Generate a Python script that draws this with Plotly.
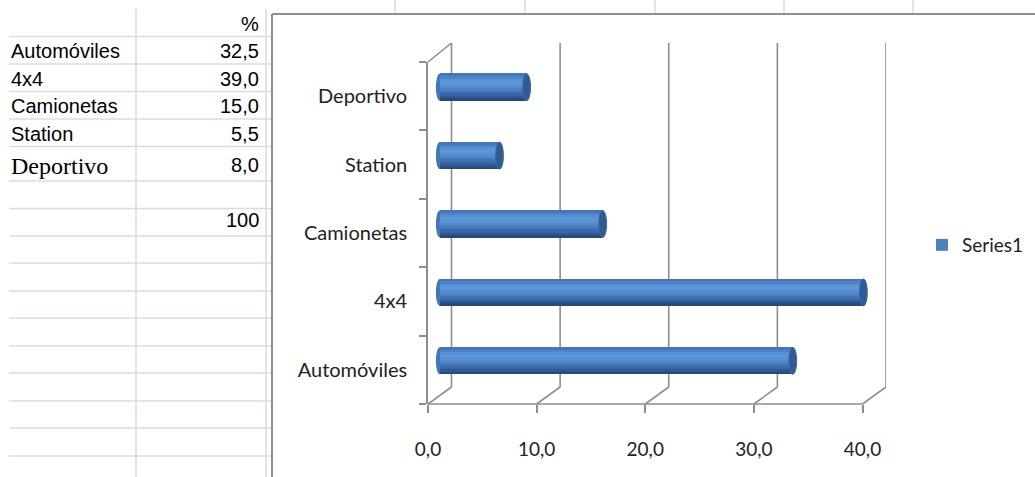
import plotly.graph_objects as go

# ---- data -------------------------------------------------------------
categories = ["Automóviles", "4x4", "Camionetas", "Station", "Deportivo"]
percentages = [32.5, 39.0, 15.0, 5.5, 8.0]
x_ticks = [0, 10, 20, 30, 40]
series_name = "Series1"
sheet_header = "%"

# ---- page geometry (pixels) ------------------------------------------
W, H = 1035, 477


def px(x):
    return x / W


def py(y):
    return 1 - y / H


# 3-D box of the chart: front plane, back wall and depth offset
FRONT_X0, FRONT_X40, BACK_X_END = 428, 862.5, 886
FRONT_TOP, FRONT_BOTTOM = 62, 404
BACK_TOP, BACK_BOTTOM = 43, 387
X_MAX = 40 * (BACK_X_END - FRONT_X0) / (FRONT_X40 - FRONT_X0)
DEPTH = X_MAX - 40                      # depth expressed in x units
BAR_BASE = DEPTH / 2                    # bars sit half way into the box
BAR_W = 0.395
CAP_HALF = 0.36

FRAME = "#8e8e8e"
GRID_SHEET = "#d6dce8"
TEXT = "#222222"
CHART_FONT = "Lato"

# cylinder shading, bottom edge to top edge
STRIPES = ["#284a78", "#2f5890", "#3866a4", "#4272b4", "#4b7ec2",
           "#538acd", "#5a93d5", "#5c95d8", "#5890d3", "#4f84c6", "#4577b8"]

fig = go.Figure()

# base bar carries the legend entry
fig.add_trace(go.Bar(
    y=categories, x=percentages, base=BAR_BASE, orientation="h",
    width=BAR_W, marker=dict(color="#4f81bd", line=dict(width=0)),
    name=series_name, xaxis="x", yaxis="y2", hoverinfo="skip",
))

n = len(STRIPES)
step = BAR_W / n
for j, col in enumerate(STRIPES):
    fig.add_trace(go.Bar(
        y=categories, x=percentages, base=BAR_BASE, orientation="h",
        width=step * 1.15, offset=-BAR_W / 2 + j * step,
        marker=dict(color=col, line=dict(width=0)),
        showlegend=False, xaxis="x", yaxis="y2", hoverinfo="skip",
    ))

# invisible points give the front category axis its labels
fig.add_trace(go.Scatter(
    y=categories, x=[0] * len(categories), mode="markers",
    marker=dict(opacity=0), showlegend=False, hoverinfo="skip",
    xaxis="x", yaxis="y",
))

shapes = []

# rounded rear end and front cap of each cylinder
for k, v in enumerate(percentages):
    shapes.append(dict(type="circle", xref="x", yref="y2", layer="below",
                       x0=BAR_BASE - CAP_HALF, x1=BAR_BASE + CAP_HALF,
                       y0=k - BAR_W / 2, y1=k + BAR_W / 2,
                       fillcolor="#4477b6", line=dict(width=0)))
    shapes.append(dict(type="circle", xref="x", yref="y2",
                       x0=BAR_BASE + v - CAP_HALF, x1=BAR_BASE + v + CAP_HALF,
                       y0=k - BAR_W / 2, y1=k + BAR_W / 2,
                       fillcolor="#305c93", line=dict(color="#3a69a6", width=1)))

# back wall gridlines and floor depth lines
for t in x_ticks:
    shapes.append(dict(type="line", xref="x", yref="paper",
                       x0=t + DEPTH, x1=t + DEPTH, y0=py(BACK_BOTTOM), y1=py(BACK_TOP),
                       line=dict(color=FRAME, width=1.6), layer="below"))
    shapes.append(dict(type="line", xref="x", yref="paper",
                       x0=t, x1=t + DEPTH, y0=py(FRONT_BOTTOM), y1=py(BACK_BOTTOM),
                       line=dict(color=FRAME, width=1.6), layer="below"))
# front floor edge
shapes.append(dict(type="line", xref="x", yref="paper",
                   x0=x_ticks[0], x1=x_ticks[-1], y0=py(FRONT_BOTTOM), y1=py(FRONT_BOTTOM),
                   line=dict(color=FRAME, width=1.6), layer="below"))
# top edge of the side wall
shapes.append(dict(type="line", xref="x", yref="paper",
                   x0=0, x1=DEPTH, y0=py(FRONT_TOP), y1=py(BACK_TOP),
                   line=dict(color=FRAME, width=1.6), layer="below"))

# ---- worksheet grid on the left ---------------------------------------
ROW_EDGES = [9, 36.5, 64, 91.5, 119, 146.5, 181, 208.5, 236, 263, 291,
             318, 346, 373, 401, 428, 456]
COL_EDGES = [136, 266]
HIDDEN_COLS = [395, 525, 655, 784, 913]   # column lines peeking above the chart
SHEET_LEFT, CHART_LEFT, CHART_TOP = 9, 272, 14

for y in ROW_EDGES[1:]:
    shapes.append(dict(type="line", xref="paper", yref="paper",
                       x0=px(SHEET_LEFT), x1=px(CHART_LEFT), y0=py(y), y1=py(y),
                       line=dict(color=GRID_SHEET, width=1.6), layer="below"))
for x in COL_EDGES:
    shapes.append(dict(type="line", xref="paper", yref="paper",
                       x0=px(x), x1=px(x), y0=py(ROW_EDGES[0]), y1=0,
                       line=dict(color=GRID_SHEET, width=1.6), layer="below"))
for x in HIDDEN_COLS:
    shapes.append(dict(type="line", xref="paper", yref="paper",
                       x0=px(x), x1=px(x), y0=1, y1=py(CHART_TOP),
                       line=dict(color=GRID_SHEET, width=1.6), layer="below"))

# chart area border
shapes.append(dict(type="line", xref="paper", yref="paper",
                   x0=px(CHART_LEFT), x1=px(CHART_LEFT), y0=py(CHART_TOP), y1=0,
                   line=dict(color=FRAME, width=2)))
shapes.append(dict(type="line", xref="paper", yref="paper",
                   x0=px(CHART_LEFT), x1=1, y0=py(CHART_TOP), y1=py(CHART_TOP),
                   line=dict(color=FRAME, width=2)))

annotations = []


def cell(text, x, y, anchor, family="Liberation Sans", size=20):
    annotations.append(dict(text=text, xref="paper", yref="paper",
                            x=px(x), y=py(y), xanchor=anchor, yanchor="middle",
                            showarrow=False,
                            font=dict(family=family, size=size, color="#000000")))


def fmt(v):
    return f"{v:.1f}".replace(".", ",")


cell(sheet_header, 261, (ROW_EDGES[0] + ROW_EDGES[1]) / 2 + 1, "right")
for i, (c, v) in enumerate(zip(categories, percentages)):
    yc = (ROW_EDGES[i + 1] + ROW_EDGES[i + 2]) / 2 + 1
    if c == "Deportivo":
        cell(c, 9, yc + 1.5, "left", family="Liberation Serif", size=24)
    else:
        cell(c, 9, yc, "left")
    cell(fmt(v), 261, yc, "right")
total = sum(percentages)
cell(f"{total:g}", 261, (ROW_EDGES[7] + ROW_EDGES[8]) / 2 - 2, "right")

fig.update_layout(
    width=W, height=H,
    margin=dict(l=0, r=0, t=0, b=0, autoexpand=False),
    paper_bgcolor="white", plot_bgcolor="rgba(0,0,0,0)",
    barmode="overlay", bargap=0,
    separators=", ",
    shapes=shapes, annotations=annotations,
    font=dict(family=CHART_FONT, size=19, color=TEXT),
    xaxis=dict(domain=[px(FRONT_X0), px(BACK_X_END)], range=[0, X_MAX],
               anchor="y", tickvals=x_ticks, tickformat=".1f",
               ticks="outside", ticklen=8, tickwidth=1.6, tickcolor=FRAME,
               showgrid=False, zeroline=False, showline=False,
               automargin=False, ticklabelstandoff=20,
               tickfont=dict(family=CHART_FONT, size=19, color=TEXT)),
    yaxis=dict(domain=[py(FRONT_BOTTOM), py(FRONT_TOP)], anchor="x",
               type="category", categoryorder="array", categoryarray=categories,
               range=[-0.5, len(categories) - 0.5],
               ticks="outside", tickson="boundaries", ticklen=7, tickwidth=1.6,
               tickcolor=FRAME, showline=True, linecolor=FRAME, linewidth=1.6,
               showgrid=False, zeroline=False, automargin=False,
               ticklabelstandoff=15,
               tickfont=dict(family=CHART_FONT, size=20, color=TEXT)),
    yaxis2=dict(domain=[py(395), py(53)], anchor="x",
                type="category", categoryorder="array", categoryarray=categories,
                range=[-0.5, len(categories) - 0.5],
                visible=False, showgrid=False, zeroline=False),
    legend=dict(x=px(922), y=py(245), xanchor="left", yanchor="middle",
                bgcolor="rgba(0,0,0,0)", borderwidth=0,
                font=dict(family=CHART_FONT, size=19, color=TEXT)),
    showlegend=True,
)

fig.write_html("out.html")
